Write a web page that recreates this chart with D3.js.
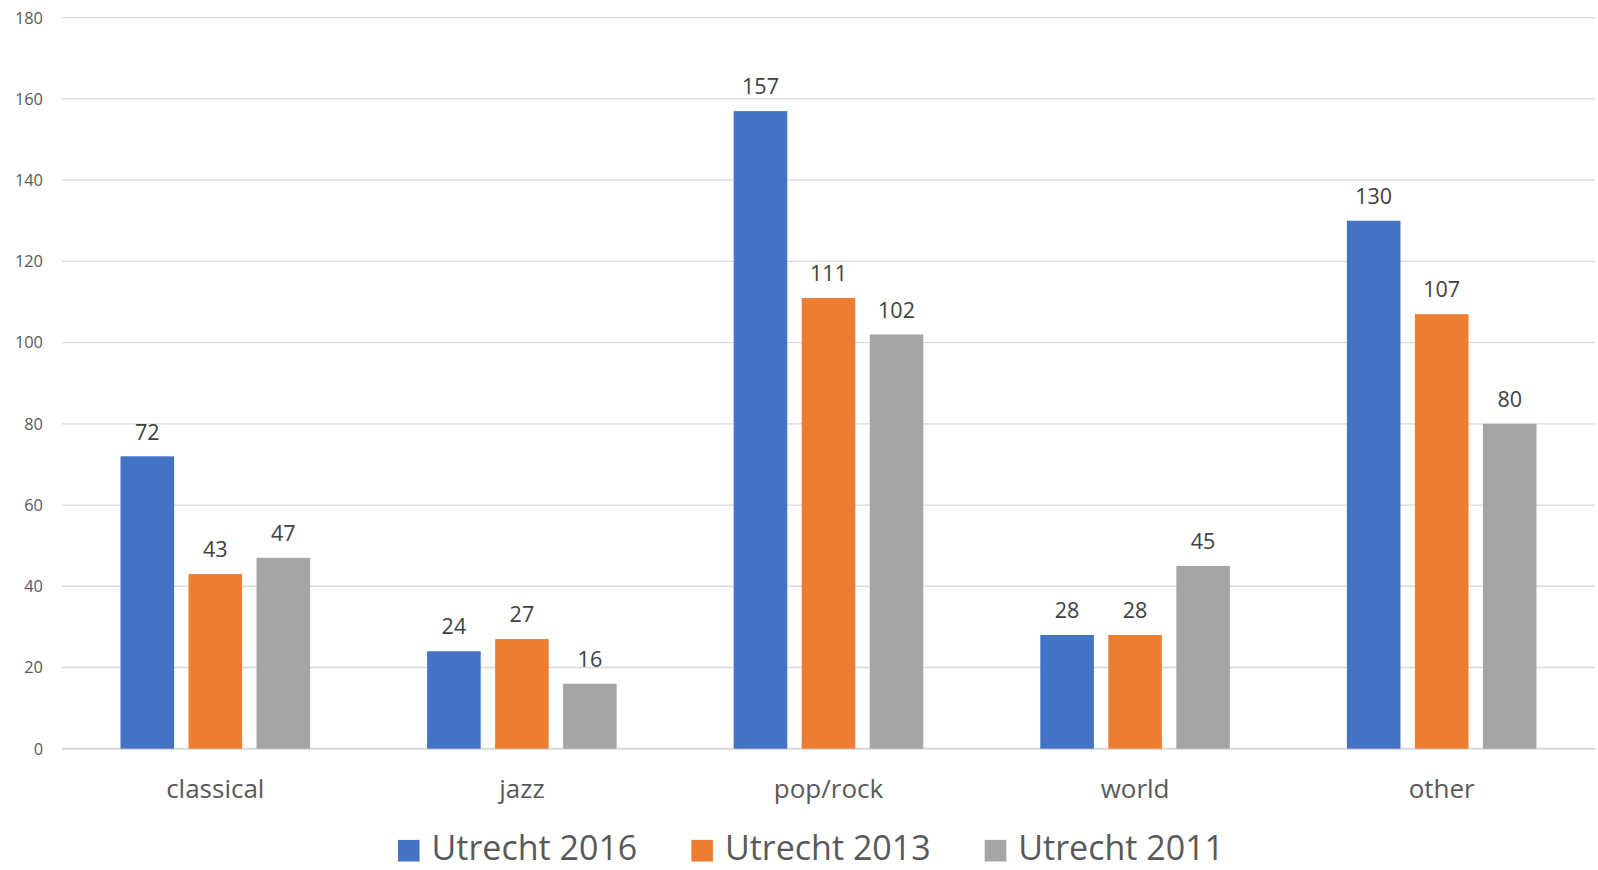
<!DOCTYPE html>
<html>
<head>
<meta charset="utf-8">
<script src="https://cdn.jsdelivr.net/npm/d3@7"></script>
<style>
  html, body { margin: 0; padding: 0; background: #fff; }
  svg { display: block; font-family: "Open Sans", sans-serif; }
</style>
</head>
<body>
<svg id="chart" width="1598" height="870"></svg>
<script>
// chart data
const categories = ["classical", "jazz", "pop/rock", "world", "other"];
const seriesNames = ["Utrecht 2016", "Utrecht 2013", "Utrecht 2011"];
const values2016 = [72, 24, 157, 28, 130];
const values2013 = [43, 27, 111, 28, 107];
const values2011 = [47, 16, 102, 45, 80];
const yTicks = [0, 20, 40, 60, 80, 100, 120, 140, 160, 180];
const seriesColors = ["#4472C4", "#ED7D31", "#A5A5A5"];

const seriesValues = [values2016, values2013, values2011];
const rows = categories.map((c, i) => ({
    category: c,
    items: seriesNames.map((s, j) => ({ series: s, value: seriesValues[j][i] }))
}));

const svg = d3.select("#chart");
const plot = { left: 62, right: 1595, top: 17.7, bottom: 748.7 };

const x = d3.scaleBand()
    .domain(categories)
    .range([plot.left, plot.right])
    .padding(0);

const groupW = 189.6;
const x1 = d3.scaleBand()
    .domain(seriesNames)
    .range([-groupW / 2, groupW / 2])
    .paddingInner(0.212)
    .paddingOuter(0);

const y = d3.scaleLinear()
    .domain([0, 180])
    .range([plot.bottom, plot.top]);

const color = d3.scaleOrdinal(seriesNames, seriesColors);

// gridlines
svg.append("g").attr("class", "grid")
    .selectAll("line")
    .data(yTicks)
    .join("line")
    .attr("x1", plot.left)
    .attr("x2", plot.right)
    .attr("y1", d => y(d))
    .attr("y2", d => y(d))
    .attr("stroke", "#d9d9d9")
    .attr("stroke-width", d => d === 0 ? 2 : 1.3);

// y tick labels
svg.append("g").attr("class", "y-labels")
    .selectAll("text")
    .data(yTicks)
    .join("text")
    .attr("x", 43)
    .attr("y", d => y(d))
    .attr("dy", "0.357em")
    .attr("text-anchor", "end")
    .attr("fill", "#595959")
    .style("font-size", "16.4px")
    .text(d => d);

// bars
const groups = svg.append("g").attr("class", "bars")
    .selectAll("g")
    .data(rows)
    .join("g")
    .attr("transform", d => `translate(${x(d.category) + x.bandwidth() / 2},0)`);

groups.selectAll("rect")
    .data(d => d.items)
    .join("rect")
    .attr("x", d => x1(d.series))
    .attr("width", x1.bandwidth())
    .attr("y", d => y(d.value))
    .attr("height", d => y(0) - y(d.value))
    .attr("fill", d => color(d.series));

// value labels
groups.selectAll("text")
    .data(d => d.items)
    .join("text")
    .attr("x", d => x1(d.series) + x1.bandwidth() / 2)
    .attr("y", d => y(d.value) - 16.8)
    .attr("text-anchor", "middle")
    .attr("fill", "#404040")
    .style("font-size", "21.5px")
    .text(d => d.value);

// category labels
svg.append("g").attr("class", "x-labels")
    .selectAll("text")
    .data(categories)
    .join("text")
    .attr("x", d => x(d) + x.bandwidth() / 2)
    .attr("y", 798)
    .attr("text-anchor", "middle")
    .attr("fill", "#595959")
    .style("font-size", "26px")
    .text(d => d);

// legend
const legend = svg.append("g").attr("class", "legend");
const sq = 21.6, gapSq = 12, gapItem = 54, legendCenter = 811, legendBase = 860;
const items = legend.selectAll("g")
    .data(seriesNames)
    .join("g");
items.append("rect")
    .attr("width", sq)
    .attr("height", sq)
    .attr("y", legendBase - sq + 1.5)
    .attr("fill", d => color(d));
items.append("text")
    .attr("x", sq + gapSq)
    .attr("y", legendBase)
    .attr("fill", "#595959")
    .style("font-size", "34px")
    .text(d => d);

let widths = [];
items.select("text").each(function () { widths.push(this.getComputedTextLength()); });
const total = widths.reduce((a, w) => a + sq + gapSq + w, 0) + gapItem * (widths.length - 1);
let cx = legendCenter - total / 2;
items.attr("transform", (d, i) => {
    const t = `translate(${cx},0)`;
    cx += sq + gapSq + widths[i] + gapItem;
    return t;
});
</script>
</body>
</html>
